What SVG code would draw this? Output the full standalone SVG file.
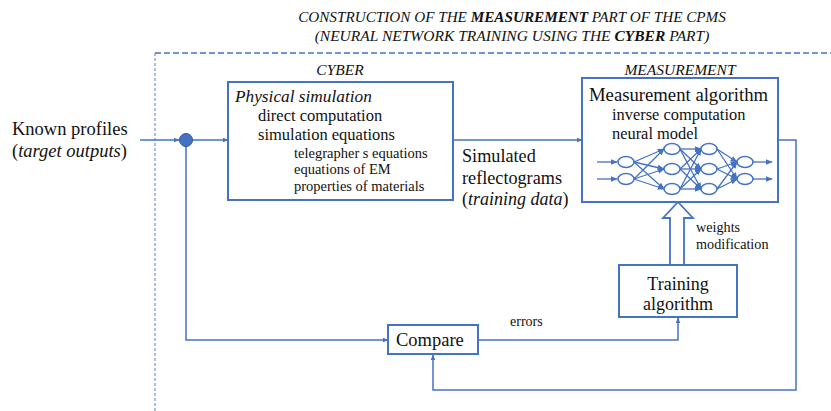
<svg xmlns="http://www.w3.org/2000/svg" width="831" height="411" viewBox="0 0 831 411" font-family="Liberation Serif, serif">
<defs>
<style>
.ln{stroke:#4472C4;stroke-width:1.5;fill:none}
.box{stroke:#4472C4;stroke-width:2;fill:#fff}
.nn{stroke:#4472C4;stroke-width:1.3;fill:none}
.node{stroke:#4472C4;stroke-width:1.5;fill:#fff}
.it{font-style:italic}
</style>
<marker id="ah" viewBox="0 0 10 10" refX="9" refY="5" markerWidth="6" markerHeight="6" orient="auto" markerUnits="userSpaceOnUse">
<path d="M0,1 L10,5 L0,9 Z" fill="#4472C4"/>
</marker>
<marker id="ahs" viewBox="0 0 10 10" refX="9" refY="5" markerWidth="7" markerHeight="7" orient="auto" markerUnits="userSpaceOnUse">
<path d="M0,1 L10,5 L0,9 Z" fill="#4472C4"/>
</marker>
</defs>
<rect width="831" height="411" fill="#fff"/>

<g id="title" fill="#111">
<text x="512" y="22" text-anchor="middle" font-size="15.2" class="it">CONSTRUCTION OF THE <tspan font-weight="bold">MEASUREMENT</tspan> PART OF THE CPMS</text>
<text x="512" y="41" text-anchor="middle" font-size="15.5" class="it">(NEURAL NETWORK TRAINING USING THE <tspan font-weight="bold">CYBER</tspan> PART)</text>
</g>

<g id="frame">
<path d="M155,411 V53" stroke="#8EAADB" stroke-width="1.5" fill="none" stroke-dasharray="3,2"/>
<path d="M155,53 H831" stroke="#4472C4" stroke-width="1.3" fill="none" stroke-dasharray="6,3"/>
</g>

<g id="known-profiles" fill="#111">
<text x="12" y="135" font-size="18.5">Known profiles</text>
<text x="12" y="157" font-size="18.5">(<tspan class="it">target outputs</tspan>)</text>
</g>

<g id="connectors">
<line class="ln" x1="140" y1="140" x2="179" y2="140" marker-end="url(#ah)"/>
<line class="ln" x1="192" y1="140" x2="228" y2="140" marker-end="url(#ah)"/>
<line class="ln" x1="453" y1="140" x2="582" y2="140" marker-end="url(#ah)"/>
<polyline class="ln" points="186,146 186,340 388,340" marker-end="url(#ah)"/>
<polyline class="ln" points="478,340 678,340 678,318" marker-end="url(#ah)"/>
<polyline class="ln" points="778,140 796,140 796,390 433,390 433,355" marker-end="url(#ah)"/>
<path d="M670,265 V218 H663 L678,202 L693,218 H684 V265" stroke="#4472C4" stroke-width="1.8" fill="#fff"/>
<text x="696" y="232" font-size="14.2" fill="#111">weights</text>
<text x="696" y="249" font-size="14.2" fill="#111">modification</text>
<text x="510" y="326" font-size="14" fill="#111">errors</text>
</g>

<g id="junction">
<circle cx="186" cy="140" r="6.5" fill="#4472C4" stroke="#2F5597" stroke-width="1"/>
</g>

<g id="cyber" fill="#111">
<text x="340" y="75" text-anchor="middle" font-size="15.5" class="it">CYBER</text>
<rect class="box" x="228" y="82" width="225" height="118"/>
<text x="235" y="102" font-size="17.3" class="it">Physical simulation</text>
<text x="258" y="121" font-size="16.5">direct computation</text>
<text x="258" y="140" font-size="16.5">simulation equations</text>
<text x="294" y="158" font-size="14.5">telegrapher s equations</text>
<text x="294" y="174" font-size="14.5">equations of EM</text>
<text x="294" y="191" font-size="14.5">properties of materials</text>
</g>

<g id="simulated-label" fill="#111">
<text x="462" y="162" font-size="18.2">Simulated</text>
<text x="462" y="184" font-size="18.2">reflectograms</text>
<text x="462" y="205" font-size="18">(<tspan class="it">training data</tspan>)</text>
</g>

<g id="measurement" fill="#111">
<text x="680" y="75" text-anchor="middle" font-size="15.5" class="it">MEASUREMENT</text>
<rect class="box" x="582" y="78" width="196" height="124"/>
<text x="589" y="101" font-size="18.7">Measurement algorithm</text>
<text x="612" y="120" font-size="16.4">inverse computation</text>
<text x="612" y="139" font-size="16.4">neural model</text>
<g id="neural-net">
<line class="nn" x1="597" y1="162" x2="617" y2="162" marker-end="url(#ahs)"/>
<line class="nn" x1="597" y1="179" x2="617" y2="179" marker-end="url(#ahs)"/>
<line class="nn" x1="634" y1="162" x2="664" y2="149" marker-end="url(#ahs)"/>
<line class="nn" x1="634" y1="162" x2="664" y2="169" marker-end="url(#ahs)"/>
<line class="nn" x1="634" y1="162" x2="664" y2="189" marker-end="url(#ahs)"/>
<line class="nn" x1="634" y1="179" x2="664" y2="149" marker-end="url(#ahs)"/>
<line class="nn" x1="634" y1="179" x2="664" y2="169" marker-end="url(#ahs)"/>
<line class="nn" x1="634" y1="179" x2="664" y2="189" marker-end="url(#ahs)"/>
<line class="nn" x1="680" y1="149" x2="701" y2="149" marker-end="url(#ahs)"/>
<line class="nn" x1="680" y1="149" x2="701" y2="169" marker-end="url(#ahs)"/>
<line class="nn" x1="680" y1="149" x2="701" y2="189" marker-end="url(#ahs)"/>
<line class="nn" x1="680" y1="169" x2="701" y2="149" marker-end="url(#ahs)"/>
<line class="nn" x1="680" y1="169" x2="701" y2="169" marker-end="url(#ahs)"/>
<line class="nn" x1="680" y1="169" x2="701" y2="189" marker-end="url(#ahs)"/>
<line class="nn" x1="680" y1="189" x2="701" y2="149" marker-end="url(#ahs)"/>
<line class="nn" x1="680" y1="189" x2="701" y2="169" marker-end="url(#ahs)"/>
<line class="nn" x1="680" y1="189" x2="701" y2="189" marker-end="url(#ahs)"/>
<line class="nn" x1="717" y1="149" x2="737" y2="162" marker-end="url(#ahs)"/>
<line class="nn" x1="717" y1="149" x2="737" y2="179" marker-end="url(#ahs)"/>
<line class="nn" x1="717" y1="169" x2="737" y2="162" marker-end="url(#ahs)"/>
<line class="nn" x1="717" y1="169" x2="737" y2="179" marker-end="url(#ahs)"/>
<line class="nn" x1="717" y1="189" x2="737" y2="162" marker-end="url(#ahs)"/>
<line class="nn" x1="717" y1="189" x2="737" y2="179" marker-end="url(#ahs)"/>
<line class="nn" x1="753" y1="162" x2="772" y2="162" marker-end="url(#ahs)"/>
<line class="nn" x1="753" y1="179" x2="772" y2="179" marker-end="url(#ahs)"/>
<ellipse class="node" cx="626" cy="162" rx="8" ry="5.5"/>
<ellipse class="node" cx="626" cy="179" rx="8" ry="5.5"/>
<ellipse class="node" cx="672" cy="149" rx="8" ry="5.5"/>
<ellipse class="node" cx="672" cy="169" rx="8" ry="5.5"/>
<ellipse class="node" cx="672" cy="189" rx="8" ry="5.5"/>
<ellipse class="node" cx="709" cy="149" rx="8" ry="5.5"/>
<ellipse class="node" cx="709" cy="169" rx="8" ry="5.5"/>
<ellipse class="node" cx="709" cy="189" rx="8" ry="5.5"/>
<ellipse class="node" cx="745" cy="162" rx="8" ry="5.5"/>
<ellipse class="node" cx="745" cy="179" rx="8" ry="5.5"/>
</g>
</g>

<g id="training" fill="#111">
<rect class="box" x="619" y="265" width="118" height="52"/>
<text x="678" y="290" text-anchor="middle" font-size="18">Training</text>
<text x="678" y="310" text-anchor="middle" font-size="18">algorithm</text>
</g>

<g id="compare" fill="#111">
<rect class="box" x="388" y="325" width="90" height="29"/>
<text x="396" y="346" font-size="18.5">Compare</text>
</g>
</svg>
